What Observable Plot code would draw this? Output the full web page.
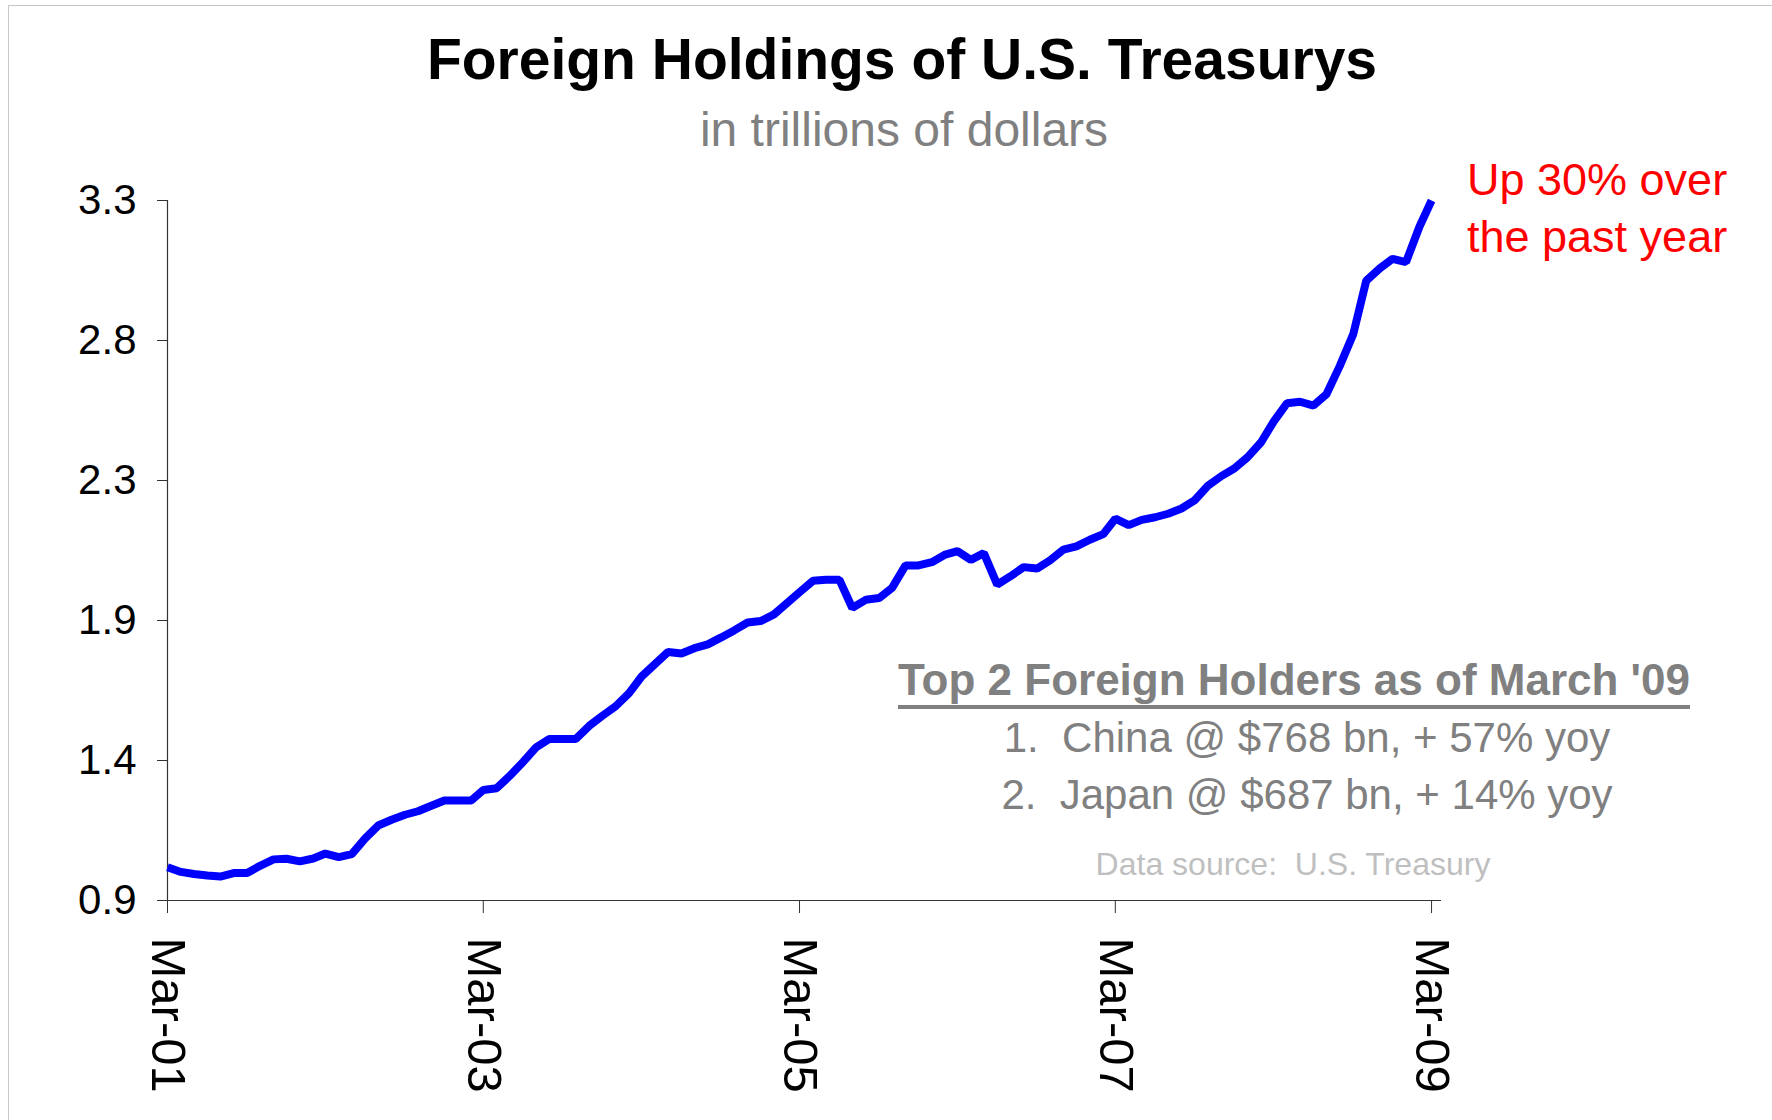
<!DOCTYPE html>
<html>
<head>
<meta charset="utf-8">
<script src="https://cdn.jsdelivr.net/npm/d3@7"></script>
<script src="https://cdn.jsdelivr.net/npm/@observablehq/plot@0.6"></script>
<style>
  html, body { margin: 0; padding: 0; background: #fff; }
  #page { position: relative; width: 1772px; height: 1120px; overflow: hidden; background: #fff;
          font-family: "Liberation Sans", Arial, sans-serif; }
  #frame { position: absolute; left: 8px; top: 5px; width: 1800px; height: 1200px;
           border-left: 1.5px solid #c8c8c8; border-top: 1.5px solid #c8c8c8; }
  .t { position: absolute; white-space: pre; line-height: 1; }
  .c { transform: translateX(-50%); }
  #title { left: 902px; top: 31px; font-size: 57px; font-weight: bold; color: #000; }
  #subtitle { left: 904px; top: 106px; font-size: 48px; color: #808080; }
  #note { left: 1467px; top: 151px; font-size: 45px; line-height: 57px; color: #ff0000; }
  #boxTitle { left: 1294px; top: 658px; font-size: 44px; font-weight: bold; color: #808080; }
  #boxTitle span { display: inline-block; border-bottom: 4.5px solid #808080; padding-bottom: 2.5px; line-height: 44px; }
  #line1 { left: 1307px; top: 717px; font-size: 42px; color: #808080; }
  #line2 { left: 1307px; top: 774px; font-size: 42px; color: #808080; }
  #source { left: 1293px; top: 848px; font-size: 32px; color: #bfbfbf; }
  #chart { position: absolute; left: 0; top: 160px; }
</style>
</head>
<body>
<div id="page">
  <div id="frame"></div>
  <div id="chart"></div>
  <div id="title" class="t c">Foreign Holdings of U.S. Treasurys</div>
  <div id="subtitle" class="t c">in trillions of dollars</div>
  <div id="note" class="t">Up 30% over<br>the past year</div>
  <div id="boxTitle" class="t c"><span>Top 2 Foreign Holders as of March '09</span></div>
  <div id="line1" class="t c">1.  China @ $768 bn, + 57% yoy</div>
  <div id="line2" class="t c">2.  Japan @ $687 bn, + 14% yoy</div>
  <div id="source" class="t c">Data source:  U.S. Treasury</div>
</div>
<script>
// Monthly foreign holdings of U.S. Treasuries, trillions of dollars, Mar 2001 .. Mar 2009
const startYear = 2001;
const startMonthIndex = 2; // March
const holdings = [
  1.014, 0.998, 0.991, 0.986, 0.982, 0.994, 0.994, 1.019, 1.041, 1.043,
  1.034, 1.044, 1.061, 1.049, 1.059, 1.113, 1.157, 1.177, 1.194, 1.206,
  1.225, 1.243, 1.243, 1.243, 1.279, 1.285, 1.327, 1.375, 1.425, 1.454,
  1.454, 1.454, 1.499, 1.533, 1.566, 1.611, 1.668, 1.711, 1.752, 1.747,
  1.765, 1.778, 1.802, 1.826, 1.853, 1.858, 1.881, 1.921, 1.957, 1.996,
  2.000, 2.000, 1.903, 1.931, 1.937, 1.972, 2.049, 2.049, 2.060, 2.086,
  2.098, 2.068, 2.091, 1.983, 2.011, 2.043, 2.038, 2.066, 2.103, 2.114,
  2.137, 2.156, 2.209, 2.187, 2.205, 2.214, 2.226, 2.244, 2.273, 2.322,
  2.355, 2.381, 2.420, 2.471, 2.542, 2.605, 2.610, 2.597, 2.636, 2.733,
  2.842, 3.025, 3.067, 3.100, 3.089, 3.210, 3.300
];
const yTicks = [0.9, 1.38, 1.86, 2.34, 2.82, 3.3];
const yTickLabels = ["0.9", "1.4", "1.9", "2.3", "2.8", "3.3"];
const xTickYears = [2001, 2003, 2005, 2007, 2009];
const xTickLabels = ["Mar-01", "Mar-03", "Mar-05", "Mar-07", "Mar-09"];
const yDomain = [0.9, 3.3];

const data = holdings.map((v, i) => ({
  date: new Date(Date.UTC(startYear, startMonthIndex + i, 1)),
  value: v
}));
const xTickDates = xTickYears.map(y => new Date(Date.UTC(y, startMonthIndex, 1)));
const xStart = new Date(Date.UTC(2001, 2, 1));
const xEnd = new Date(Date.UTC(2009, 2, 24));

const chart = Plot.plot({
  width: 1772,
  height: 960,
  marginTop: 40,
  marginBottom: 220,
  marginLeft: 167,
  marginRight: 331,
  style: { fontFamily: "Liberation Sans, Arial, sans-serif", color: "#000", background: "transparent", overflow: "visible" },
  x: { type: "utc", domain: [xStart, xEnd], label: null },
  y: { domain: yDomain, label: null },
  marks: [
    Plot.ruleX([xStart], { stroke: "#333", strokeWidth: 1.2 }),
    Plot.ruleY([yDomain[0]], { stroke: "#333", strokeWidth: 1.2 }),
    Plot.axisY(yTicks, {
      anchor: "left", tickSize: 10, tickPadding: 21, fontSize: 42, stroke: "#333",
      tickFormat: d => yTickLabels[yTicks.indexOf(d)]
    }),
    Plot.axisX(xTickDates, {
      anchor: "bottom", tickSize: 13, tickPadding: 24, tickRotate: 90, fontSize: 49, stroke: "#333",
      tickFormat: d => xTickLabels[xTickYears.indexOf(d.getUTCFullYear())]
    }),
    Plot.lineY(data, {
      x: "date", y: "value", stroke: "#0000ff", strokeWidth: 8,
      strokeLinejoin: "miter", strokeLinecap: "butt"
    })
  ]
});
document.getElementById("chart").appendChild(chart);
</script>
</body>
</html>
